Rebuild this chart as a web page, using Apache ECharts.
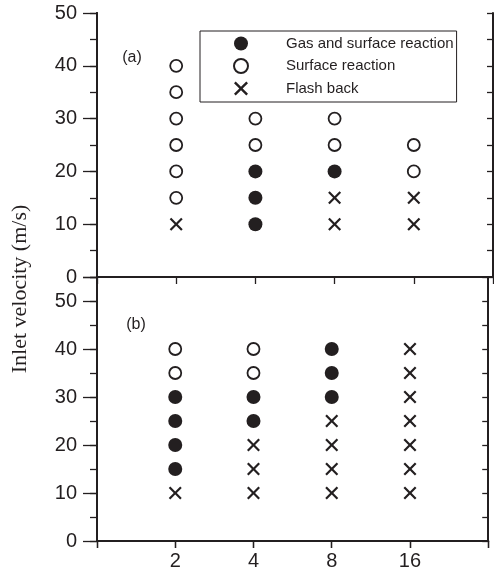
<!DOCTYPE html>
<html>
<head>
<meta charset="utf-8">
<script src="https://cdn.jsdelivr.net/npm/echarts@6/dist/echarts.min.js"></script>
<style>html,body{margin:0;padding:0;background:#fff}#c{width:494px;height:576px}</style>
</head>
<body>
<div id="c"></div>
<script>
// ---- data ----
const xTicks = ['2', '4', '8', '16'];
const xCategories = ['', ...xTicks, ' '];
const yTicksTop = [0, 10, 20, 30, 40, 50];
const seriesNames = ['Gas and surface reaction', 'Surface reaction', 'Flash back'];
const panelLabels = ['(a)', '(b)'];
const yTitle = 'Inlet velocity (m/s)';

// panel (a)
const aGas = [['4', 10], ['4', 15], ['4', 20], ['8', 20]];
const aSurface = [['2', 15], ['2', 20], ['2', 25], ['2', 30], ['2', 35], ['2', 40],
                  ['4', 25], ['4', 30], ['8', 25], ['8', 30], ['16', 20], ['16', 25]];
const aFlash = [['2', 10], ['8', 10], ['8', 15], ['16', 10], ['16', 15]];

// panel (b)
const bGas = [['2', 15], ['2', 20], ['2', 25], ['2', 30], ['4', 25], ['4', 30],
              ['8', 30], ['8', 35], ['8', 40]];
const bSurface = [['2', 35], ['2', 40], ['4', 35], ['4', 40]];
const bFlash = [['2', 10], ['4', 10], ['4', 15], ['4', 20],
                ['8', 10], ['8', 15], ['8', 20], ['8', 25],
                ['16', 10], ['16', 15], ['16', 20], ['16', 25], ['16', 30], ['16', 35], ['16', 40]];

// ---- styling ----
const INK = '#231f20';
const SANS = '"Liberation Sans", Arial, Helvetica, sans-serif';
const CROSS = 'path://M0,1.2L1.2,0L5,3.8L8.8,0L10,1.2L6.2,5L10,8.8L8.8,10L5,6.2L1.2,10L0,8.8L3.8,5Z';
const LEFT = 97, WIDTH = 396, H = 264;
const yMaxTop = 50, yMaxBottom = 55;

const line = { show: true, lineStyle: { color: INK, width: 2 } };
function xAx(grid, pos, opts) {
  return Object.assign({
    type: 'category', gridIndex: grid, position: pos, data: xCategories, boundaryGap: false,
    axisLine: line, axisTick: { show: false }, axisLabel: { show: false }, splitLine: { show: false }
  }, opts);
}
function yAx(grid, pos, max, interval, tick, opts) {
  return Object.assign({
    type: 'value', gridIndex: grid, position: pos, min: 0, max: max, interval: interval,
    axisLine: line, axisTick: tick, axisLabel: { show: false }, splitLine: { show: false }
  }, opts);
}
const tickStyle = { color: INK, width: 1.3 };
const yLabel = {
  show: true, margin: 20, fontSize: 20, color: INK, fontFamily: SANS,
  formatter: v => (yTicksTop.indexOf(v) >= 0 ? String(v) : '')
};

function panelSeries(xi, yi, gas, surf, flash) {
  return [
    { name: seriesNames[0], type: 'scatter', xAxisIndex: xi, yAxisIndex: yi, data: gas,
      symbol: 'circle', symbolSize: 14,
      itemStyle: { color: INK, opacity: 1 } },
    { name: seriesNames[1], type: 'scatter', xAxisIndex: xi, yAxisIndex: yi, data: surf,
      symbol: 'circle', symbolSize: 12,
      itemStyle: { color: '#fff', borderColor: INK, borderWidth: 1.8, opacity: 1 } },
    { name: seriesNames[2], type: 'scatter', xAxisIndex: xi, yAxisIndex: yi, data: flash,
      symbol: CROSS, symbolSize: 13,
      itemStyle: { color: INK, opacity: 1 } }
  ];
}

const chart = echarts.init(document.getElementById('c'), null, { renderer: 'canvas' });
chart.setOption({
  backgroundColor: '#fff',
  animation: false,
  grid: [
    { left: LEFT, top: 13, width: WIDTH, height: H },
    { left: LEFT, top: 13 + H, width: WIDTH, height: H }
  ],
  xAxis: [
    xAx(0, 'bottom', {}),
    xAx(0, 'top', { axisTick: { show: true, inside: true, length: 7, interval: 0, lineStyle: tickStyle } }),
    xAx(1, 'bottom', {
      axisTick: { show: true, inside: false, length: 7, interval: 0, lineStyle: tickStyle },
      axisLabel: { show: true, interval: 0, margin: 10, fontSize: 20, color: INK, fontFamily: SANS }
    }),
    xAx(1, 'top', { axisTick: { show: true, inside: true, length: 7, interval: 0, lineStyle: tickStyle } })
  ],
  yAxis: [
    yAx(0, 'left', yMaxTop, 5, { show: true, length: 7, lineStyle: tickStyle }, { axisLabel: yLabel }),
    yAx(0, 'left', yMaxTop, 10, { show: true, length: 14, lineStyle: tickStyle }, {}),
    yAx(0, 'right', yMaxTop, 5, { show: true, inside: true, length: 6, lineStyle: tickStyle }, {}),
    yAx(1, 'left', yMaxBottom, 5, { show: true, length: 7, lineStyle: tickStyle }, { axisLabel: yLabel }),
    yAx(1, 'left', yMaxBottom, 10, { show: true, length: 14, lineStyle: tickStyle }, {}),
    yAx(1, 'right', yMaxBottom, 5, { show: true, inside: true, length: 6, lineStyle: tickStyle }, {})
  ],
  legend: {
    data: seriesNames, orient: 'vertical', left: 200, top: 31,
    itemWidth: 14, itemHeight: 14, itemGap: 7, padding: [5, 3, 6, 33],
    borderColor: INK, borderWidth: 1, selectedMode: false,
    textStyle: { fontSize: 15, color: INK, fontFamily: SANS, padding: [0, 0, 0, 33] }
  },
  graphic: [
    { type: 'text', x: 132, y: 58, style: { text: panelLabels[0], font: '16px ' + SANS, fill: INK, textAlign: 'center', textVerticalAlign: 'middle' } },
    { type: 'text', x: 136, y: 325, style: { text: panelLabels[1], font: '16px ' + SANS, fill: INK, textAlign: 'center', textVerticalAlign: 'middle' } },
    { type: 'text', x: 20, y: 289, rotation: Math.PI / 2,
      style: { text: yTitle, font: '22px "Liberation Serif", "Times New Roman", serif', fill: INK, textAlign: 'center', textVerticalAlign: 'middle' } }
  ],
  series: [
    ...panelSeries(0, 0, aGas, aSurface, aFlash),
    ...panelSeries(2, 3, bGas, bSurface, bFlash)
  ]
});
</script>
</body>
</html>
